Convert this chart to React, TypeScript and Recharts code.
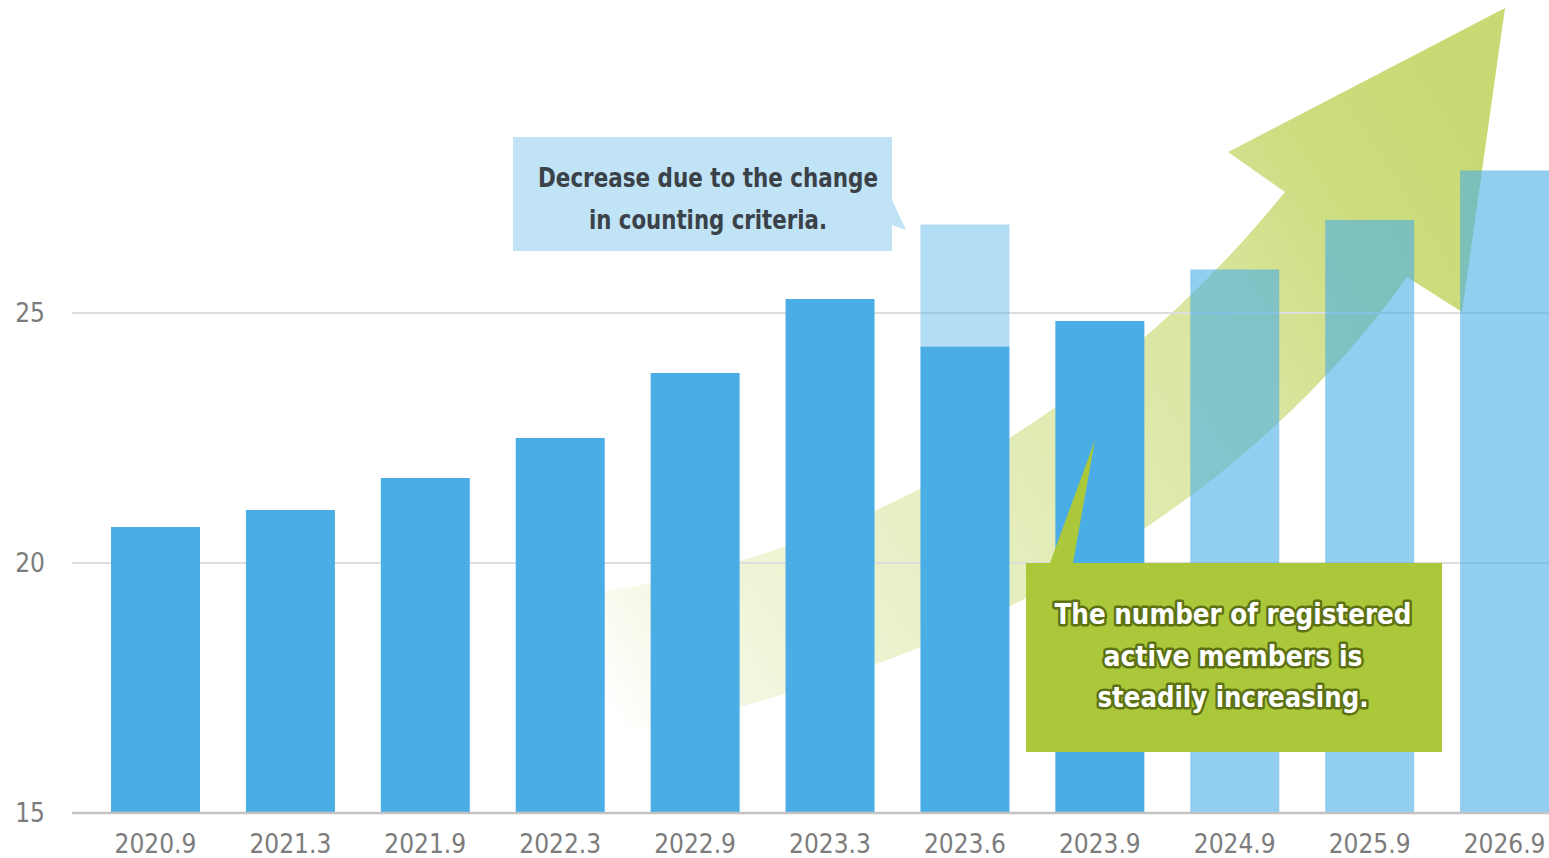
import React from 'react';
import { BarChart, Bar, XAxis, YAxis, CartesianGrid } from 'recharts';

// period labels on the x axis
const periods = ['2020.9', '2021.3', '2021.9', '2022.3', '2022.9', '2023.3', '2023.6', '2023.9', '2024.9', '2025.9', '2026.9'];
// registered active members, actual results
const actual = [20.72, 21.06, 21.7, 22.5, 23.8, 25.28, 24.33, 24.84, null, null, null];
// 2023.6 figure under the old counting criteria
const oldCriteria = [null, null, null, null, null, null, 26.77, null, null, null, null];
// targets
const forecast = [null, null, null, null, null, null, null, null, 25.87, 26.86, 27.85];
const yTicks = [15, 20, 25];

const rows = periods.map((p, i) => ({
    period: p,
    actual: actual[i],
    oldDiff: oldCriteria[i] != null && actual[i] != null ? (oldCriteria[i] as number) - (actual[i] as number) : null,
    forecast: forecast[i],
}));

const BLUE = '#4aade6';
const FONT = "'DejaVu Sans Condensed', 'DejaVu Sans', sans-serif";

const GrowthArrow: React.FC = () => (
    <svg width={1549} height={858} style={{ position: 'absolute', left: 0, top: 0 }}>
        <defs>
            <linearGradient id="arrowFill" gradientUnits="userSpaceOnUse" x1={590} y1={680} x2={1480} y2={120}>
                <stop offset="0" stopColor="#b8cf4c" stopOpacity={0} />
                <stop offset="0.12" stopColor="#b8cf4c" stopOpacity={0.18} />
                <stop offset="0.45" stopColor="#b8cf4c" stopOpacity={0.4} />
                <stop offset="0.7" stopColor="#b8cf4c" stopOpacity={0.55} />
                <stop offset="0.85" stopColor="#b8cf4c" stopOpacity={0.72} />
                <stop offset="1" stopColor="#b8cf4c" stopOpacity={0.78} />
            </linearGradient>
        </defs>
        <path
            d="M600,592 C850,555 1100,420 1285,192 L1228,152 L1505,8 L1462,312 L1407,277 C1220,540 900,690 600,735 Z"
            fill="url(#arrowFill)"
        />
    </svg>
);

const Callouts: React.FC = () => (
    <svg width={1549} height={858} style={{ position: 'absolute', left: 0, top: 0, pointerEvents: 'none' }}>
        <path d="M513,137 L892,137 L892,200 L906,230 L892,225 L892,251 L513,251 Z" fill="#c1e3f6" />
        <g fontFamily={FONT} fontWeight="bold" fontSize={26} fill="#3b4148" textAnchor="middle">
            <text x={708} y={187} textLength={340} lengthAdjust="spacingAndGlyphs">Decrease due to the change</text>
            <text x={708} y={229} textLength={238} lengthAdjust="spacingAndGlyphs">in counting criteria.</text>
        </g>
        <path d="M1026,563 L1050,563 L1095,440 L1073,563 L1442,563 L1442,752 L1026,752 Z" fill="#abc73a" />
        <g
            fontFamily={FONT}
            fontWeight="bold"
            fontSize={28}
            fill="#ffffff"
            stroke="#5d7213"
            strokeWidth={5}
            strokeLinejoin="round"
            paintOrder="stroke"
            textAnchor="middle"
        >
            <text x={1233} y={624} textLength={357} lengthAdjust="spacingAndGlyphs">The number of registered</text>
            <text x={1233} y={666} textLength={259} lengthAdjust="spacingAndGlyphs">active members is</text>
            <text x={1233} y={707} textLength={271} lengthAdjust="spacingAndGlyphs">steadily increasing.</text>
        </g>
    </svg>
);

const App: React.FC = () => {
    return (
        <div style={{ position: 'absolute', left: 0, top: 0, width: 1549, height: 858, overflow: 'hidden', background: '#fff' }}>
            <GrowthArrow />
            <div style={{ position: 'absolute', left: 0, top: 0 }}>
                <BarChart width={1572} height={858} data={rows} margin={{ top: 13, right: 0, bottom: 0, left: 0 }} barSize={89}>
                    <CartesianGrid vertical={false} stroke="#dedede" strokeWidth={2} horizontalValues={yTicks} />
                    <XAxis
                        dataKey="period"
                        height={45}
                        interval={0}
                        padding={{ left: 16, right: 0 }}
                        tickLine={false}
                        tickMargin={16}
                        axisLine={{ stroke: '#c3c3c3', strokeWidth: 2.5 }}
                        tick={{ fill: '#7c7c7c', fontSize: 26, fontFamily: FONT }}
                    />
                    <YAxis
                        width={72}
                        type="number"
                        domain={[15, 31]}
                        allowDataOverflow
                        ticks={yTicks}
                        axisLine={false}
                        tickLine={false}
                        tickMargin={21}
                        tick={{ fill: '#7c7c7c', fontSize: 26, fontFamily: FONT }}
                    />
                    <Bar dataKey="actual" stackId="m" fill={BLUE} isAnimationActive={false} />
                    <Bar dataKey="oldDiff" stackId="m" fill={BLUE} fillOpacity={0.42} isAnimationActive={false} />
                    <Bar dataKey="forecast" stackId="m" fill={BLUE} fillOpacity={0.6} isAnimationActive={false} />
                </BarChart>
            </div>
            <Callouts />
        </div>
    );
};

export default App;
